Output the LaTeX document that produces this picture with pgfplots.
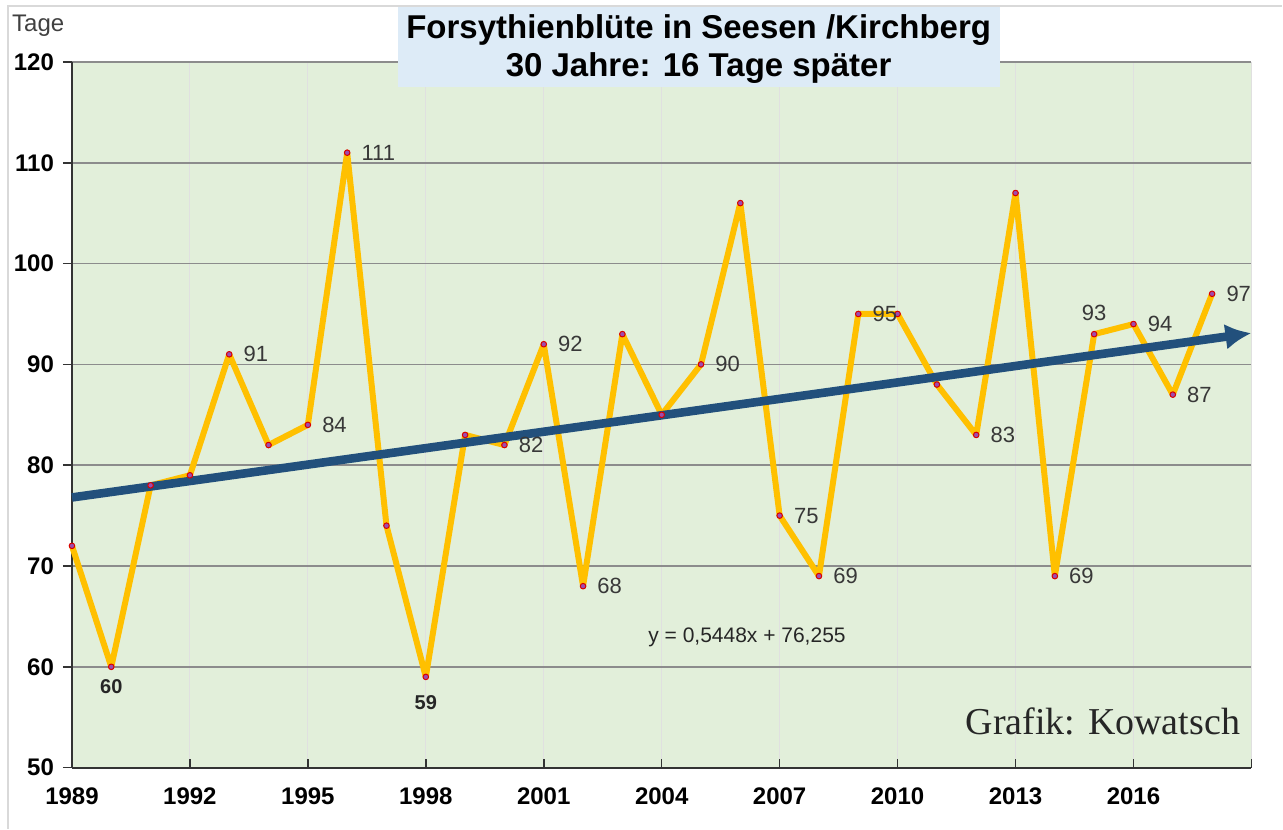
\documentclass[border=0pt]{standalone}
\usepackage{fontspec}
\setmainfont{Liberation Sans}
\newfontfamily\seriffont{Liberation Serif}
\usepackage{pgfplots}
\usepackage{pgfplotstable}
\pgfplotsset{compat=1.18}
\usetikzlibrary{arrows.meta}
\definecolor{bg}{RGB}{226,239,218}
\definecolor{titlebg}{RGB}{221,235,247}
\definecolor{gold}{RGB}{255,192,0}
\definecolor{trendblue}{RGB}{34,80,124}
\pgfplotstableread{
year val
1989 72
1990 60
1991 78
1992 79
1993 91
1994 82
1995 84
1996 111
1997 74
1998 59
1999 83
2000 82
2001 92
2002 68
2003 93
2004 85
2005 90
2006 106
2007 75
2008 69
2009 95
2010 95
2011 88
2012 83
2013 107
2014 69
2015 93
2016 94
2017 87
2018 97
}\data
\pgfplotstableread{
year val
1993 91
1995 84
1996 111
2000 82
2001 92
2002 68
2005 90
2007 75
2008 69
2009 95
2012 83
2014 69
2016 94
2017 87
2018 97
}\labright
\pgfplotstableread{
year val
2015 93
}\lababove
\pgfplotstableread{
year val
1990 60
}\labbelowa
\pgfplotstableread{
year val
1998 59
}\labbelowb
\pgfplotstableread{
year val
1989 76.8
2019 93.1
}\trend
\begin{document}
\begin{tikzpicture}
\begin{axis}[name=ax, scale only axis, width=590pt, height=353pt,
  xmin=1989, xmax=2019, ymin=50, ymax=120,
  xtick={1989,1992,...,2016},
  xticklabels={1989,1992,1995,1998,2001,2004,2007,2010,2013,2016},
  extra x ticks={2019}, extra x tick labels={},
  extra x tick style={grid style={black!35, line width=0.8pt}},
  ytick={50,60,...,120},
  axis x line*=bottom, axis y line*=left,
  axis line style={black!80, line width=1pt},
  tick align=inside, major tick length=4.5pt,
  tick style={black!80, line width=0.8pt},
  ytick style={xshift=-4.5pt},
  ymajorgrids, xmajorgrids,
  x grid style={black!12, line width=0.5pt},
  y grid style={black!45, line width=0.8pt},
  axis background/.style={fill=bg},
  ticklabel style={font=\bfseries\fontsize{12}{12}\selectfont},
  /pgf/number format/assume math mode=true,
  xticklabel style={yshift=-6.5pt},
  yticklabel style={xshift=-5.5pt},
  clip=false,
]
\addplot[color=gold, line width=3pt, line join=round, mark=*, mark size=1.4pt,
  mark options={draw=red!85!black, fill=blue!55!red!70, line width=0.5pt}]
  table[x=year,y=val] {\data};
\addplot[color=trendblue, line width=4.3pt, -{Latex[length=13pt,width=13pt]}]
  table[x=year,y=val] {\trend};
\addplot[draw=none, mark=none, nodes near coords, point meta=explicit symbolic,
  nodes near coords style={anchor=west, inner sep=0pt, xshift=7pt, yshift=0pt,
  font=\fontsize{11}{11}\selectfont, text=black!78}]
  table[x=year,y=val,meta=val] {\labright};
\addplot[draw=none, mark=none, nodes near coords, point meta=explicit symbolic,
  nodes near coords style={anchor=center, inner sep=0pt, yshift=10.5pt,
  font=\fontsize{11}{11}\selectfont, text=black!78}]
  table[x=year,y=val,meta=val] {\lababove};
\addplot[draw=none, mark=none, nodes near coords, point meta=explicit symbolic,
  nodes near coords style={anchor=center, inner sep=0pt, yshift=-10pt,
  font=\bfseries\fontsize{10}{10}\selectfont, text=black!85}]
  table[x=year,y=val,meta=val] {\labbelowa};
\addplot[draw=none, mark=none, nodes near coords, point meta=explicit symbolic,
  nodes near coords style={anchor=center, inner sep=0pt, yshift=-13pt,
  font=\bfseries\fontsize{10}{10}\selectfont, text=black!85}]
  table[x=year,y=val,meta=val] {\labbelowb};
\node[font=\fontsize{10.5}{10.5}\selectfont, text=black!85] at (axis cs:2006.17,62.9) {y = 0,5448x + 76,255};
\node[anchor=base east, inner sep=0pt, font=\seriffont\fontsize{19}{19}\selectfont, text=black!85] at (axis cs:2018.72,53.27) {Grafik: Kowatsch};
\node[fill=titlebg, minimum width=301pt, minimum height=41pt, inner sep=0pt] at (axis cs:2004.94,121.6) {};
\node[align=center, inner sep=0pt, yshift=-1.5pt,
  font=\bfseries\fontsize{16.5}{19}\selectfont] at (axis cs:2004.94,121.6)
  {Forsythienblüte in Seesen /Kirchberg\\30 Jahre: 16 Tage später};
\node[anchor=base west, inner sep=0pt, font=\fontsize{12}{12}\selectfont, text=black!75] at (axis cs:1987.47,123.07) {Tage};
\end{axis}
\draw[black!15, line width=0.6pt] ([xshift=-32pt,yshift=-30.5pt]ax.south west) -- ([xshift=-32pt,yshift=28pt]ax.north west) -- ([xshift=15.5pt,yshift=28pt]ax.north east);
\path[use as bounding box] ([xshift=-36pt,yshift=-30.5pt]ax.south west) rectangle ([xshift=15.5pt,yshift=31pt]ax.north east);
\end{tikzpicture}
\end{document}
